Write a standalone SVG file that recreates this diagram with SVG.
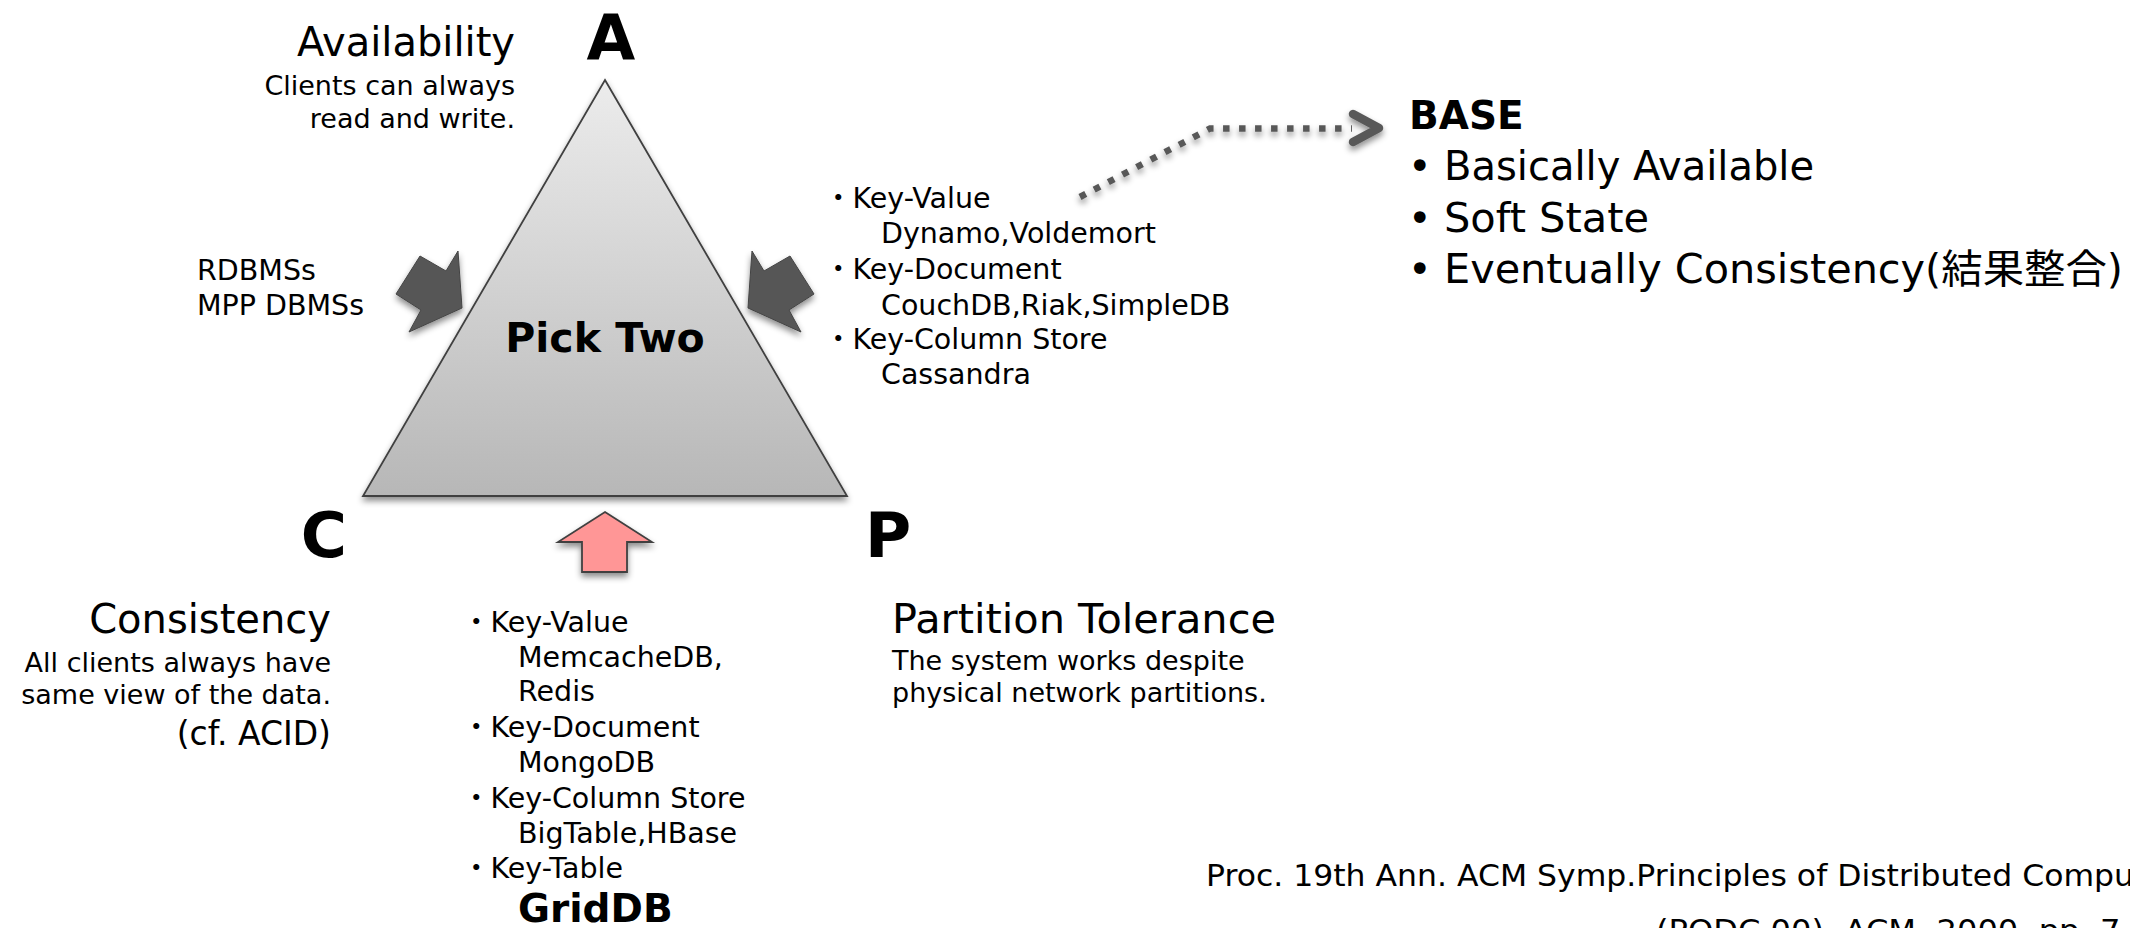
<svg xmlns="http://www.w3.org/2000/svg" width="2130" height="928" viewBox="0 0 2130 928">
<defs>
<linearGradient id="triFill" x1="0" y1="0" x2="0" y2="1">
<stop offset="0" stop-color="#ececec"/>
<stop offset="1" stop-color="#b7b7b7"/>
</linearGradient>
<filter id="shadow" x="-20%" y="-20%" width="140%" height="150%">
<feDropShadow dx="0" dy="4" stdDeviation="3" flood-color="#000" flood-opacity="0.45"/>
</filter>
</defs>
<style>
text{font-family:"DejaVu Sans","Noto Sans CJK JP",sans-serif;fill:#000}
.big{font-size:63px;font-weight:bold}
.title{font-size:40px}
.desc{font-size:27px}
.list{font-size:28.5px}
.bold{font-weight:bold}
.end{text-anchor:end}
.mid{text-anchor:middle}
.darrow{fill:#575757;stroke:#444;stroke-width:1;filter:url(#shadow)}
</style>

<g id="triangle">
<polygon points="605,80 847,496 363,496" fill="url(#triFill)" stroke="#404040" stroke-width="1.8" stroke-linejoin="miter" filter="url(#shadow)"/>
<text x="605" y="352" class="mid bold" style="font-size:41px">Pick Two</text>
</g>

<g id="vertex-a">
<text x="611" y="59" class="big mid">A</text>
<text x="515" y="56" class="title end">Availability</text>
<text x="515" y="95" class="desc end">Clients can always</text>
<text x="515" y="128" class="desc end">read and write.</text>
</g>

<g id="vertex-c">
<text x="347" y="557" class="big end">C</text>
<text x="331" y="633" class="title end">Consistency</text>
<text x="331" y="672" class="desc end">All clients always have</text>
<text x="331" y="704" class="desc end">same view of the data.</text>
<text x="331" y="745" class="end" style="font-size:33px">(cf. ACID)</text>
</g>

<g id="vertex-p">
<text x="865" y="557" class="big">P</text>
<text x="892" y="633" class="title" textLength="384" lengthAdjust="spacingAndGlyphs">Partition Tolerance</text>
<text x="892" y="670" class="desc">The system works despite</text>
<text x="892" y="702" class="desc">physical network partitions.</text>
</g>

<g id="ca-systems">
<text x="197" y="280" class="list">RDBMSs</text>
<text x="197" y="315" class="list">MPP DBMSs</text>
</g>

<g id="ap-systems">
<text x="824" y="208" class="list">・Key-Value</text>
<text x="881" y="243" class="list">Dynamo,Voldemort</text>
<text x="824" y="279" class="list">・Key-Document</text>
<text x="881" y="315" class="list">CouchDB,Riak,SimpleDB</text>
<text x="824" y="349" class="list">・Key-Column Store</text>
<text x="881" y="384" class="list">Cassandra</text>
</g>

<g id="cp-systems">
<text x="462" y="632" class="list">・Key-Value</text>
<text x="518" y="667" class="list">MemcacheDB,</text>
<text x="518" y="701" class="list">Redis</text>
<text x="462" y="737" class="list">・Key-Document</text>
<text x="518" y="772" class="list">MongoDB</text>
<text x="462" y="808" class="list">・Key-Column Store</text>
<text x="518" y="843" class="list">BigTable,HBase</text>
<text x="462" y="878" class="list">・Key-Table</text>
<text x="518" y="922" class="bold" style="font-size:39px">GridDB</text>
</g>

<g id="base">
<text x="1409" y="129" class="bold" style="font-size:39px">BASE</text>
<text x="1408" y="180" class="title">•</text>
<text x="1444" y="180" class="title">Basically Available</text>
<text x="1408" y="232" class="title">•</text>
<text x="1444" y="232" class="title" textLength="205" lengthAdjust="spacingAndGlyphs">Soft State</text>
<text x="1408" y="283" class="title">•</text>
<text x="1444" y="283" class="title" textLength="679" lengthAdjust="spacingAndGlyphs">Eventually Consistency(結果整合)</text>
</g>

<g id="citation">
<text x="1206" y="886" style="font-size:30px" textLength="928" lengthAdjust="spacingAndGlyphs">Proc. 19th Ann. ACM Symp.Principles of Distributed Compu</text>
<text x="1656" y="941" style="font-size:30px" textLength="476" lengthAdjust="spacingAndGlyphs">(PODC 00), ACM, 2000, pp. 7-</text>
</g>

<g id="connectors">
<polygon class="darrow" points="396,294 420,256 446,271 458,251 462,308 409,332 421,310"/>
<polygon class="darrow" points="814,294 790,256 764,271 752,251 748,308 801,332 789,310"/>
<polygon points="605,512 652,542 627,542 627,572 582,572 582,542 558,542" fill="#ff9696" stroke="#404040" stroke-width="1.8" filter="url(#shadow)"/>
<g filter="url(#shadow)">
<path d="M1080,197 L1210,128.5 L1352,128.5" fill="none" stroke="#595959" stroke-width="6.5" stroke-dasharray="6.5 9.5"/>
<polyline points="1353,114 1379,128 1353,142" fill="none" stroke="#595959" stroke-width="8.5" stroke-linecap="round" stroke-linejoin="round"/>
</g>
</g>
</svg>
